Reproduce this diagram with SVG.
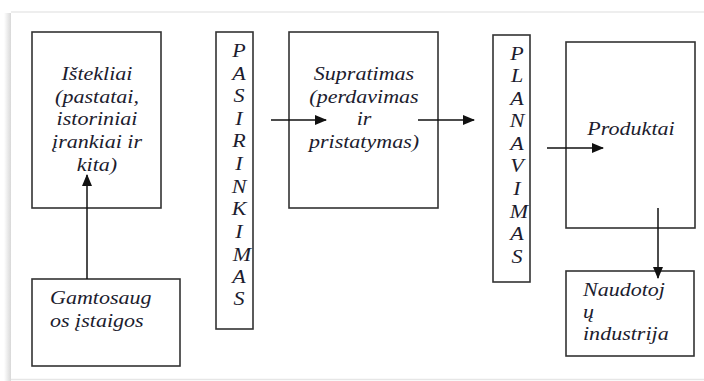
<svg xmlns="http://www.w3.org/2000/svg" width="704" height="381" viewBox="0 0 704 381">
<defs>
<style>
.box{fill:#fff;stroke:#333;stroke-width:1.6}
.t{font-family:'Liberation Serif','DejaVu Serif',serif;font-style:italic;font-size:19.5px;fill:#1c1c2e}
.c{text-anchor:middle}
.ln{stroke:#111;stroke-width:1.5;fill:none}
</style>
<marker id="ah" markerWidth="12" markerHeight="10" refX="11" refY="5" orient="auto" markerUnits="userSpaceOnUse">
<path d="M0,0 L12,5 L0,10 Z" fill="#111"/>
</marker>
<linearGradient id="sh" x1="0" x2="1" y1="0" y2="0">
<stop offset="0" stop-color="#fff"/>
<stop offset="1" stop-color="#d8d8d8"/>
</linearGradient>
</defs>
<rect width="704" height="381" fill="#fff"/>
<g id="frame">
<rect x="4" y="13" width="7" height="368" fill="url(#sh)"/>
<rect x="11" y="11" width="693" height="3" fill="#eeeeee"/>
<rect x="11" y="13" width="693" height="366" fill="#fff"/>
<line x1="11" y1="379.5" x2="704" y2="379.5" stroke="#e6e6e6" stroke-width="1.5"/>
</g>
<g id="istekliai">
<rect class="box" x="32" y="32" width="129" height="176"/>
<text class="t c" transform="translate(97 80) scale(1.13 1)">Ištekliai</text>
<text class="t c" transform="translate(97 103) scale(1.13 1)">(pastatai,</text>
<text class="t c" transform="translate(97 125) scale(1.13 1)">istoriniai</text>
<text class="t c" transform="translate(97 148) scale(1.13 1)">įrankiai ir</text>
<text class="t c" transform="translate(97 171) scale(1.13 1)">kita)</text>
</g>
<g id="pasirinkimas">
<rect class="box" x="216" y="32" width="37" height="297"/>
<text class="t c" transform="translate(239 57) scale(1.13 1)">P</text>
<text class="t c" transform="translate(239 80) scale(1.13 1)">A</text>
<text class="t c" transform="translate(239 102) scale(1.13 1)">S</text>
<text class="t c" transform="translate(239 125) scale(1.13 1)">I</text>
<text class="t c" transform="translate(239 147) scale(1.13 1)">R</text>
<text class="t c" transform="translate(239 170) scale(1.13 1)">I</text>
<text class="t c" transform="translate(239 193) scale(1.13 1)">N</text>
<text class="t c" transform="translate(239 215) scale(1.13 1)">K</text>
<text class="t c" transform="translate(239 238) scale(1.13 1)">I</text>
<text class="t c" transform="translate(242 261) scale(1.13 1)">M</text>
<text class="t c" transform="translate(239 283) scale(1.13 1)">A</text>
<text class="t c" transform="translate(239 305) scale(1.13 1)">S</text>
</g>
<g id="supratimas">
<rect class="box" x="289" y="32" width="149" height="176"/>
<text class="t c" transform="translate(364 80) scale(1.13 1)">Supratimas</text>
<text class="t c" transform="translate(364 103) scale(1.13 1)">(perdavimas</text>
<text class="t c" transform="translate(364 125) scale(1.13 1)">ir</text>
<text class="t c" transform="translate(364 148) scale(1.13 1)">pristatymas)</text>
</g>
<g id="planavimas">
<rect class="box" x="493" y="35" width="37" height="247"/>
<text class="t c" transform="translate(517 60) scale(1.13 1)">P</text>
<text class="t c" transform="translate(517 82) scale(1.13 1)">L</text>
<text class="t c" transform="translate(517 105) scale(1.13 1)">A</text>
<text class="t c" transform="translate(517 127) scale(1.13 1)">N</text>
<text class="t c" transform="translate(517 150) scale(1.13 1)">A</text>
<text class="t c" transform="translate(517 172) scale(1.13 1)">V</text>
<text class="t c" transform="translate(517 195) scale(1.13 1)">I</text>
<text class="t c" transform="translate(519 218) scale(1.13 1)">M</text>
<text class="t c" transform="translate(517 240) scale(1.13 1)">A</text>
<text class="t c" transform="translate(517 263) scale(1.13 1)">S</text>
</g>
<g id="produktai">
<rect class="box" x="566" y="42" width="129" height="186"/>
<text class="t c" transform="translate(631 135) scale(1.13 1)">Produktai</text>
</g>
<g id="gamtosaugos">
<rect class="box" x="32" y="279" width="148" height="87"/>
<text class="t" transform="translate(50 304) scale(1.13 1)">Gamtosaug</text>
<text class="t" transform="translate(50 327) scale(1.13 1)">os įstaigos</text>
</g>
<g id="naudotoju">
<rect class="box" x="566" y="271" width="128" height="85"/>
<text class="t" transform="translate(583 296) scale(1.13 1)">Naudotoj</text>
<text class="t" transform="translate(583 318) scale(1.13 1)">ų</text>
<text class="t" transform="translate(583 340) scale(1.13 1)">industrija</text>
</g>
<g id="connectors">
<line class="ln" x1="87" y1="279" x2="87" y2="175" marker-end="url(#ah)"/>
<line class="ln" x1="271" y1="120" x2="326" y2="120" marker-end="url(#ah)"/>
<line class="ln" x1="418" y1="120" x2="474" y2="120" marker-end="url(#ah)"/>
<line class="ln" x1="547" y1="148" x2="603" y2="148" marker-end="url(#ah)"/>
<line class="ln" x1="658" y1="208" x2="658" y2="278" marker-end="url(#ah)"/>
</g>
</svg>
